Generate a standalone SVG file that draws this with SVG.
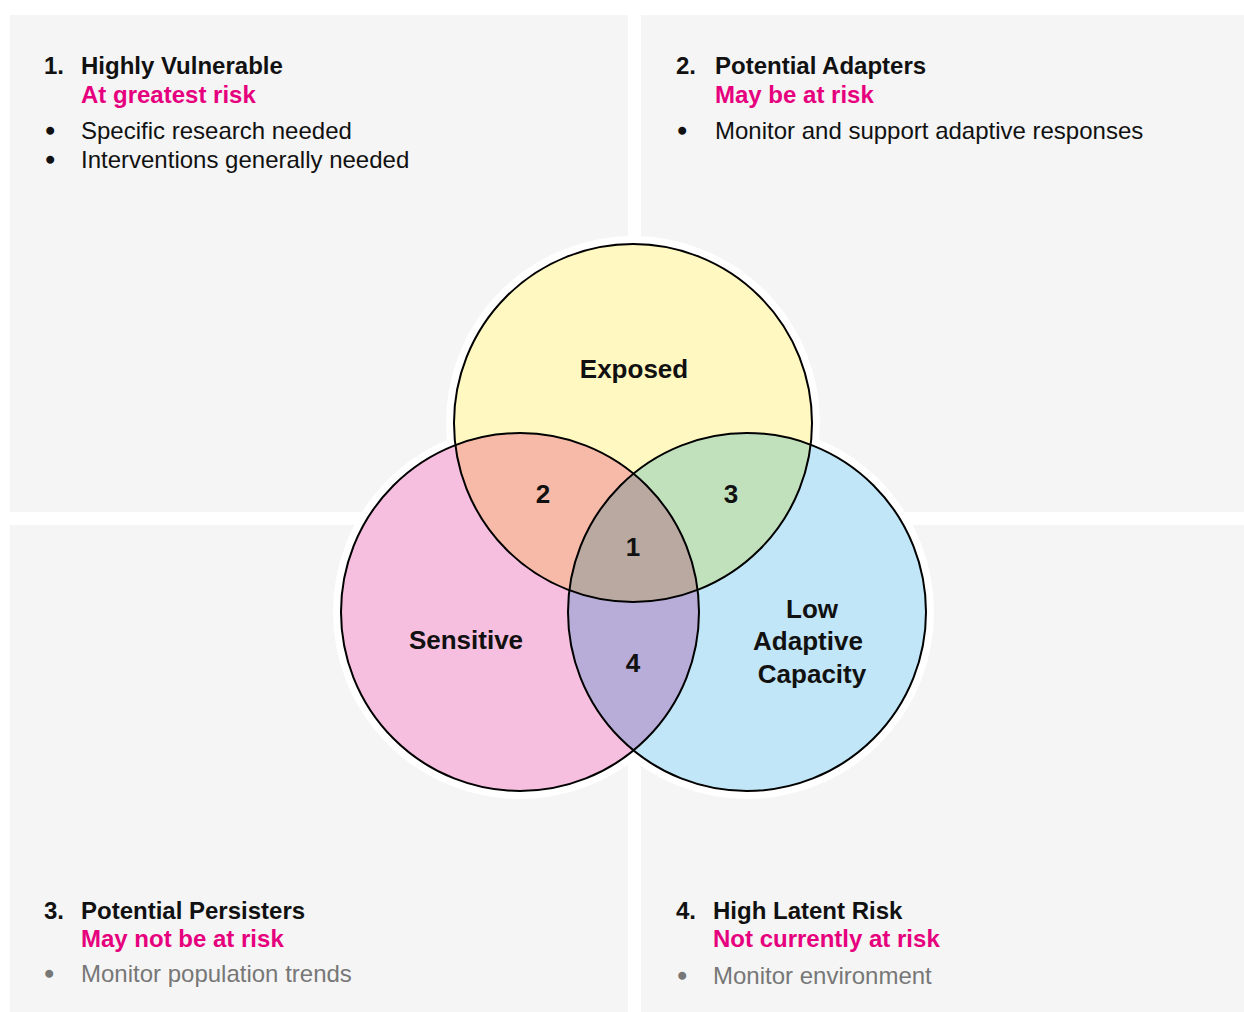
<svg xmlns="http://www.w3.org/2000/svg" width="1244" height="1012" viewBox="0 0 1244 1012">
<style>
.panel{fill:#f5f5f5}
.t{font-family:"Liberation Sans",Arial,sans-serif}
.h{font-size:24px;font-weight:bold;fill:#111}
.p{font-size:24px;font-weight:bold;fill:#e6007e}
.b{font-size:24px;fill:#111}
.g{font-size:24px;fill:#777}
.d{font-size:24px;fill:#111;stroke:#111;stroke-width:1.4}
.dg{font-size:24px;fill:#777;stroke:#777;stroke-width:1.4}
.lbl{font-size:26px;font-weight:bold;fill:#111;text-anchor:middle}
.ring{fill:none;stroke:#000;stroke-width:2}
.halo{fill:#fff;stroke:#fff;stroke-width:16}
</style>
<defs>
<clipPath id="cE"><circle cx="633" cy="423" r="179"/></clipPath>
<clipPath id="cS"><circle cx="520" cy="612" r="179"/></clipPath>
<clipPath id="cL"><circle cx="747" cy="612" r="179"/></clipPath>
</defs>
<rect width="1244" height="1012" fill="#fff"/>
<g id="panel1">
<rect class="panel" x="10" y="15" width="618" height="497"/>
<text class="t h" x="44" y="74">1.</text>
<text class="t h" x="81" y="74">Highly Vulnerable</text>
<text class="t p" x="81" y="103">At greatest risk</text>
<text class="t d" x="46" y="139">•</text>
<text class="t b" x="81" y="139">Specific research needed</text>
<text class="t d" x="46" y="168">•</text>
<text class="t b" x="81" y="168">Interventions generally needed</text>
</g>
<g id="panel2">
<rect class="panel" x="641" y="15" width="603" height="497"/>
<text class="t h" x="676" y="74">2.</text>
<text class="t h" x="715" y="74">Potential Adapters</text>
<text class="t p" x="715" y="103">May be at risk</text>
<text class="t d" x="678" y="139">•</text>
<text class="t b" x="715" y="139">Monitor and support adaptive responses</text>
</g>
<g id="panel3">
<rect class="panel" x="10" y="525" width="618" height="487"/>
<text class="t h" x="44" y="919">3.</text>
<text class="t h" x="81" y="919">Potential Persisters</text>
<text class="t p" x="81" y="947">May not be at risk</text>
<text class="t dg" x="45" y="982">•</text>
<text class="t g" x="81" y="982">Monitor population trends</text>
</g>
<g id="panel4">
<rect class="panel" x="641" y="525" width="603" height="487"/>
<text class="t h" x="676" y="919">4.</text>
<text class="t h" x="713" y="919">High Latent Risk</text>
<text class="t p" x="713" y="947">Not currently at risk</text>
<text class="t dg" x="678" y="984">•</text>
<text class="t g" x="713" y="984">Monitor environment</text>
</g>
<g id="halo">
<circle class="halo" cx="633" cy="423" r="179"/>
<circle class="halo" cx="520" cy="612" r="179"/>
<circle class="halo" cx="747" cy="612" r="179"/>
</g>
<g id="exposed">
<circle cx="633" cy="423" r="179" fill="#fff8c0"/>
</g>
<g id="sensitive">
<circle cx="520" cy="612" r="179" fill="#f7bfdf"/>
</g>
<g id="lowcap">
<circle cx="747" cy="612" r="179" fill="#c0e6f7"/>
</g>
<g id="region2" clip-path="url(#cS)">
<circle cx="633" cy="423" r="179" fill="#f7baa8"/>
</g>
<g id="region3" clip-path="url(#cL)">
<circle cx="633" cy="423" r="179" fill="#c1e1bd"/>
</g>
<g id="region4" clip-path="url(#cL)">
<circle cx="520" cy="612" r="179" fill="#b8acd8"/>
</g>
<g id="region1" clip-path="url(#cE)">
<g clip-path="url(#cL)">
<circle cx="520" cy="612" r="179" fill="#b9a9a1"/>
</g>
</g>
<g id="outlines">
<circle class="ring" cx="633" cy="423" r="179"/>
<circle class="ring" cx="520" cy="612" r="179"/>
<circle class="ring" cx="747" cy="612" r="179"/>
</g>
<g id="labels" class="t">
<text class="lbl" x="634" y="378">Exposed</text>
<text class="lbl" x="466" y="649">Sensitive</text>
<text class="lbl" x="812" y="618">Low</text>
<text class="lbl" x="808" y="650">Adaptive</text>
<text class="lbl" x="812" y="683">Capacity</text>
<text class="lbl" x="543" y="503">2</text>
<text class="lbl" x="731" y="503">3</text>
<text class="lbl" x="633" y="556">1</text>
<text class="lbl" x="633" y="672">4</text>
</g>
</svg>
